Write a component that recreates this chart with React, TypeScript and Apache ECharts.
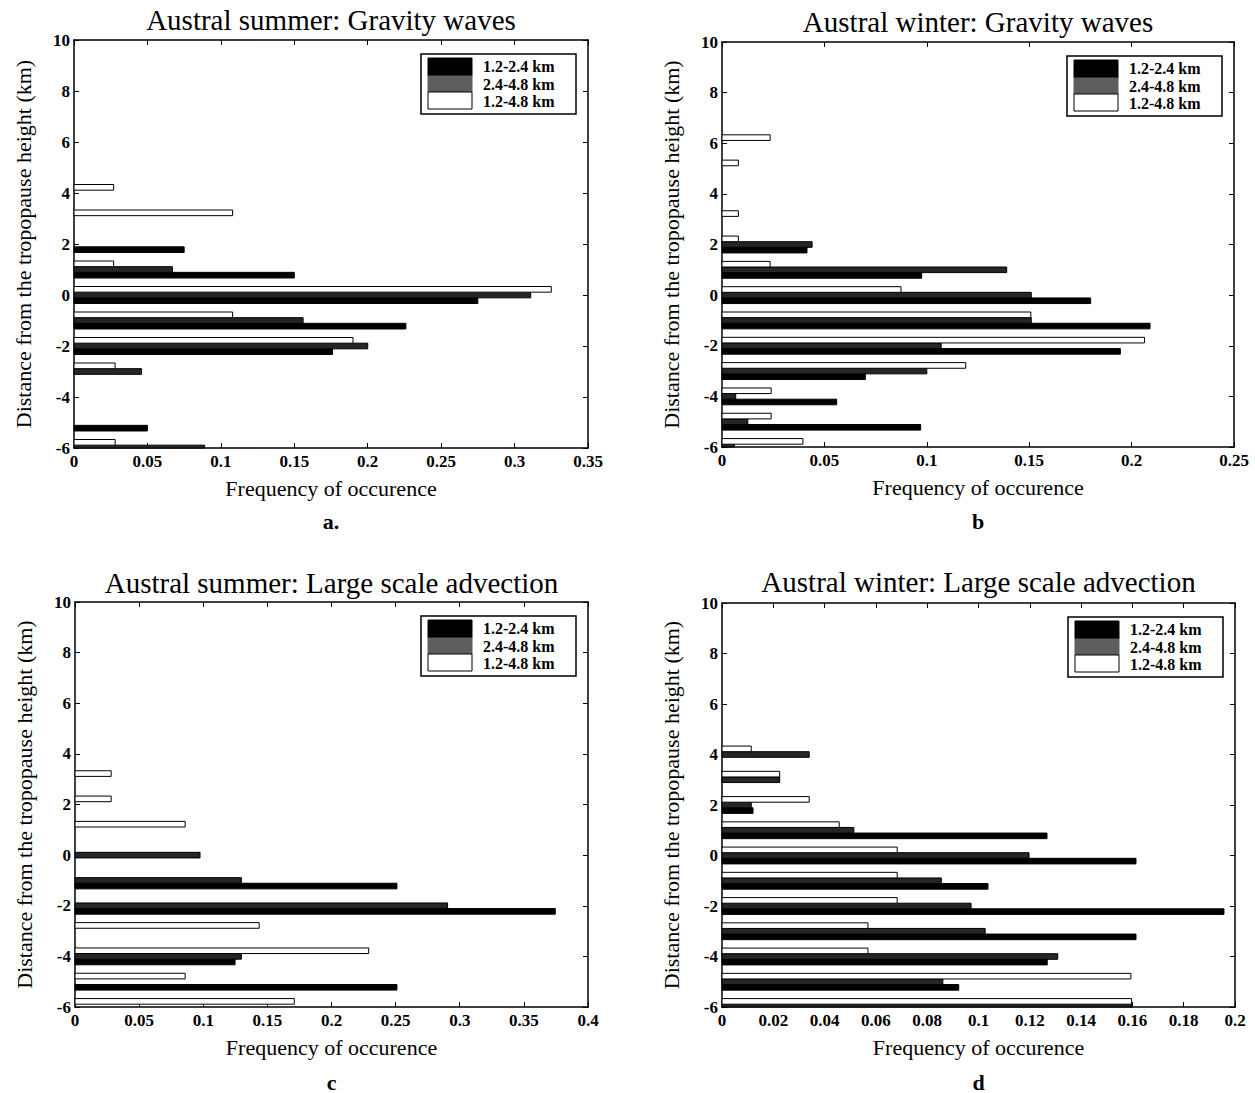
import React, { useEffect, useRef } from "react";
import * as echarts from "echarts";

// Distance from tropopause height (km): group centres
const heights = [-6, -5, -4, -3, -2, -1, 0, 1, 2, 3, 4, 5, 6];
const seriesNames = ["1.2-2.4 km", "2.4-4.8 km", "1.2-4.8 km"];

// Panel a: Austral summer, gravity waves
const aBlack = [0, 0.05, 0, 0, 0.176, 0.226, 0.275, 0.15, 0.075, 0, 0, 0, 0];
const aGray = [0.089, 0, 0, 0.046, 0.2, 0.156, 0.311, 0.067, 0, 0, 0, 0, 0];
const aWhite = [0.028, 0, 0, 0.028, 0.19, 0.108, 0.325, 0.027, 0, 0.108, 0.027, 0, 0];

// Panel b: Austral winter, gravity waves
const bBlack = [0, 0.097, 0.056, 0.07, 0.1945, 0.209, 0.18, 0.0975, 0.0415, 0, 0, 0, 0];
const bGray = [0.006, 0.0126, 0.0067, 0.1, 0.107, 0.151, 0.151, 0.139, 0.044, 0, 0, 0, 0];
const bWhite = [0.0395, 0.024, 0.024, 0.119, 0.2063, 0.1508, 0.0874, 0.0235, 0.008, 0.008, 0, 0.008, 0.0235];

// Panel c: Austral summer, large scale advection
const cBlack = [0, 0.251, 0.1248, 0, 0.3745, 0.251, 0, 0, 0, 0, 0, 0, 0];
const cGray = [0, 0, 0.1297, 0, 0.2905, 0.1297, 0.0975, 0, 0, 0, 0, 0, 0];
const cWhite = [0.171, 0.0859, 0.229, 0.1436, 0, 0, 0, 0.0859, 0.0282, 0.0282, 0, 0, 0];

// Panel d: Austral winter, large scale advection
const dBlack = [0, 0.0923, 0.1268, 0.1614, 0.1957, 0.1037, 0.1614, 0.1267, 0.0121, 0, 0, 0, 0];
const dGray = [0.16, 0.0861, 0.1309, 0.1026, 0.0971, 0.0855, 0.1197, 0.0514, 0.0114, 0.0225, 0.034, 0, 0];
const dWhite = [0.1597, 0.1594, 0.0569, 0.0569, 0.0683, 0.0683, 0.0683, 0.0457, 0.034, 0.0225, 0.0114, 0, 0];

const yTicks = { min: -6, max: 10, interval: 2 };

const panels = [
  {
    title: "Austral summer: Gravity waves",
    letter: "a.",
    xMax: 0.35,
    xInterval: 0.05,
    data: [aBlack, aGray, aWhite],
    grid: { left: 74, top: 40, width: 514, height: 408 },
    titleY: 20,
    letterY: 521,
  },
  {
    title: "Austral winter: Gravity waves",
    letter: "b",
    xMax: 0.25,
    xInterval: 0.05,
    data: [bBlack, bGray, bWhite],
    grid: { left: 722, top: 42, width: 512, height: 405 },
    titleY: 22,
    letterY: 521,
  },
  {
    title: "Austral summer: Large scale advection",
    letter: "c",
    xMax: 0.4,
    xInterval: 0.05,
    data: [cBlack, cGray, cWhite],
    grid: { left: 75, top: 602, width: 513, height: 405 },
    titleY: 583,
    letterY: 1082,
  },
  {
    title: "Austral winter: Large scale advection",
    letter: "d",
    xMax: 0.2,
    xInterval: 0.02,
    data: [dBlack, dGray, dWhite],
    grid: { left: 722, top: 603, width: 513, height: 404 },
    titleY: 582,
    letterY: 1082,
  },
];

const FONT = "'Liberation Serif', 'DejaVu Serif', serif";
const fills = ["#000000", "#262626", "#ffffff"];
const legendFills = ["#000000", "#5e5e5e", "#ffffff"];
const offsets = [-0.222, 0, 0.222];
const BAR_H = 0.222;

const makeRender = (off: number, fill: string) => (params: any, api: any) => {
  const v = api.value(0);
  const g = api.value(1);
  if (!v) return null;
  const yc = g + off;
  const p0 = api.coord([0, yc + BAR_H / 2]);
  const p1 = api.coord([v, yc - BAR_H / 2]);
  const cs = params.coordSys;
  const shape = echarts.graphic.clipRectByRect(
    { x: p0[0], y: p0[1], width: p1[0] - p0[0], height: p1[1] - p0[1] },
    { x: cs.x, y: cs.y, width: cs.width, height: cs.height }
  );
  if (!shape) return null;
  return {
    type: "rect",
    shape,
    style: { fill, stroke: "#000", lineWidth: 1 },
  };
};

const fmt = (v: number) => String(+v.toFixed(4));

export default function App() {
  const ref = useRef<HTMLDivElement>(null);

  useEffect(() => {
    if (!ref.current) return;
    const chart = echarts.init(ref.current, undefined, { renderer: "svg" });

    const grids: any[] = [];
    const xAxes: any[] = [];
    const yAxes: any[] = [];
    const series: any[] = [];
    const graphics: any[] = [];

    const axisLine = { show: true, onZero: false, lineStyle: { color: "#000", width: 1.5 } };
    const tick = { show: true, inside: true, length: 5, lineStyle: { color: "#000", width: 1 } };
    const label = { color: "#000", fontFamily: FONT, fontWeight: "bold", fontSize: 17 };
    const nameStyle = { color: "#000", fontFamily: FONT, fontSize: 22 };

    panels.forEach((p, i) => {
      grids.push({ ...p.grid, containLabel: false });
      xAxes.push({
        type: "value",
        gridIndex: i,
        position: "bottom",
        min: 0,
        max: p.xMax,
        interval: p.xInterval,
        axisLine,
        axisTick: tick,
        splitLine: { show: false },
        axisLabel: { ...label, margin: 5, formatter: fmt },
        name: "Frequency of occurence",
        nameLocation: "middle",
        nameGap: 29,
        nameTextStyle: nameStyle,
      });
      xAxes.push({
        type: "value",
        gridIndex: i,
        position: "top",
        min: 0,
        max: p.xMax,
        interval: p.xInterval,
        axisLine,
        axisTick: tick,
        splitLine: { show: false },
        axisLabel: { show: false },
      });
      yAxes.push({
        type: "value",
        gridIndex: i,
        position: "left",
        ...yTicks,
        axisLine,
        axisTick: tick,
        splitLine: { show: false },
        axisLabel: { ...label, margin: 4 },
        name: "Distance from the tropopause height (km)",
        nameLocation: "middle",
        nameGap: 40,
        nameTextStyle: nameStyle,
      });
      yAxes.push({
        type: "value",
        gridIndex: i,
        position: "right",
        ...yTicks,
        axisLine,
        axisTick: tick,
        splitLine: { show: false },
        axisLabel: { show: false },
      });

      p.data.forEach((arr, k) => {
        series.push({
          type: "custom",
          name: seriesNames[k],
          xAxisIndex: 2 * i,
          yAxisIndex: 2 * i,
          renderItem: makeRender(offsets[k], fills[k]),
          encode: { x: 0, y: 1 },
          data: arr.map((v, j) => [v, heights[j]]),
          z: 3,
        });
      });

      const cx = p.grid.left + p.grid.width / 2;
      graphics.push({
        type: "text",
        x: cx,
        y: p.titleY,
        style: {
          text: p.title,
          fill: "#000",
          font: `29px ${FONT}`,
          textAlign: "center",
          textVerticalAlign: "middle",
        },
      });
      graphics.push({
        type: "text",
        x: cx,
        y: p.letterY,
        style: {
          text: p.letter,
          fill: "#000",
          font: `bold 22px ${FONT}`,
          textAlign: "center",
          textVerticalAlign: "middle",
        },
      });

      // legend box
      const right = p.grid.left + p.grid.width;
      const boxW = 155;
      const boxH = 60;
      const bx = right - 12 - boxW;
      const by = p.grid.top + 14;
      const swX = bx + 7;
      const swW = 44;
      const sw = [
        [4, 18],
        [22, 16],
        [38, 17],
      ];
      const textY = [12, 30, 47];
      const children: any[] = [
        {
          type: "rect",
          shape: { x: bx, y: by, width: boxW, height: boxH },
          style: { fill: "#fff", stroke: "#000", lineWidth: 1.5 },
        },
      ];
      sw.forEach((s, k) => {
        children.push({
          type: "rect",
          shape: { x: swX, y: by + s[0], width: swW, height: s[1] },
          style: { fill: legendFills[k], stroke: k === 2 ? "#000" : legendFills[k], lineWidth: 1 },
        });
        children.push({
          type: "text",
          x: bx + 62,
          y: by + textY[k],
          style: {
            text: seriesNames[k],
            fill: "#000",
            font: `bold 16px ${FONT}`,
            textAlign: "left",
            textVerticalAlign: "middle",
          },
        });
      });
      graphics.push({ type: "group", z: 10, children });
    });

    chart.setOption({
      animation: false,
      backgroundColor: "#fff",
      grid: grids,
      xAxis: xAxes,
      yAxis: yAxes,
      series,
      graphic: graphics,
    });

    return () => chart.dispose();
  }, []);

  return (
    <div
      ref={ref}
      style={{ position: "fixed", left: 0, top: 0, width: 1255, height: 1093, background: "#fff" }}
    />
  );
}
